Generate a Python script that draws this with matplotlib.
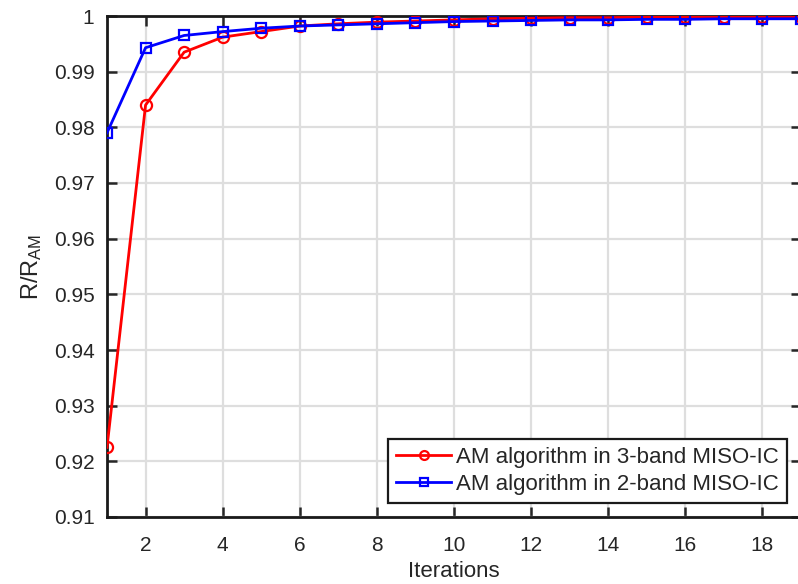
import matplotlib
matplotlib.use("Agg")
import matplotlib.pyplot as plt
import numpy as np

# Data
iterations = list(range(1, 20))
ratio_3band = [0.9225, 0.9840, 0.9935, 0.9962, 0.9972, 0.9982, 0.9986, 0.9989,
               0.9991, 0.9993, 0.9995, 0.9996, 0.9997, 0.9997, 0.9998, 0.9998,
               0.9998, 0.9998, 0.9998]
ratio_2band = [0.9790, 0.9943, 0.9965, 0.9972, 0.9978, 0.9982, 0.9984, 0.9986,
               0.9988, 0.9990, 0.9991, 0.9992, 0.9993, 0.9993, 0.9994, 0.9994,
               0.9995, 0.9995, 0.9995]
labels = ["AM algorithm in 3-band MISO-IC", "AM algorithm in 2-band MISO-IC"]
xticks = list(range(2, 19, 2))
yticks = [0.91, 0.92, 0.93, 0.94, 0.95, 0.96, 0.97, 0.98, 0.99, 1.0]
ytick_labels = ["0.91", "0.92", "0.93", "0.94", "0.95", "0.96", "0.97", "0.98", "0.99", "1"]

plt.rcParams["font.family"] = ["Liberation Sans", "DejaVu Sans"]
plt.rcParams["mathtext.fontset"] = "custom"
plt.rcParams["mathtext.rm"] = "Liberation Sans"
plt.rcParams["mathtext.it"] = "Liberation Sans"

fig = plt.figure(figsize=(7.98, 5.84), dpi=100)
ax = fig.add_axes([107 / 798, 67 / 584, 694 / 798, 501 / 584])

text_color = "#262626"
ax.plot(iterations, ratio_3band, color="red", lw=2, marker="o", ms=8,
        mfc="none", mew=1.6, label=labels[0], zorder=3)
ax.plot(iterations, ratio_2band, color="blue", lw=2, marker="s", ms=7,
        mfc="none", mew=1.6, label=labels[1], zorder=4)

ax.set_xlim(1, 19)
ax.set_ylim(0.91, 1.0)
ax.set_xticks(xticks)
ax.set_yticks(yticks)
ax.set_yticklabels(ytick_labels)
ax.grid(True, color="#dedede", lw=1.6)
ax.set_axisbelow(True)

ax.tick_params(direction="in", length=7, width=1.8, labelsize=15,
               colors=text_color, top=True, right=True)
ax.tick_params(axis="x", pad=14)
ax.tick_params(axis="y", pad=9)
for sp in ax.spines.values():
    sp.set_linewidth(2)
    sp.set_color("#1a1a1a")

ax.set_xlabel("Iterations", fontsize=16, color=text_color, labelpad=4)
ax.set_ylabel(r"R/R$_{\mathrm{AM}}$", fontsize=17, color=text_color, labelpad=7)

leg = ax.legend(loc="lower right", fontsize=16, frameon=True, fancybox=False,
                framealpha=1, edgecolor="#1a1a1a", handlelength=2.5,
                borderpad=0.33, labelspacing=0.3, handletextpad=0.23,
                borderaxespad=0.65, markerscale=0.8)
leg.get_frame().set_linewidth(1.6)
for t in leg.get_texts():
    t.set_color(text_color)

fig.savefig("out.png", dpi=100)
